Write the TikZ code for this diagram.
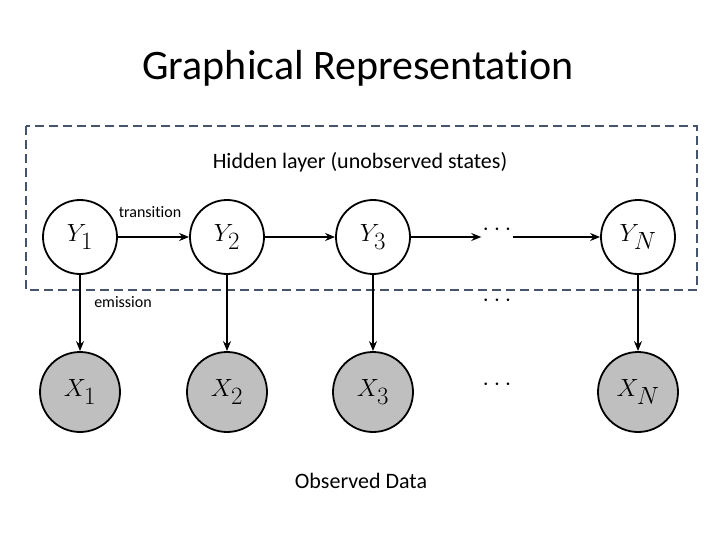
\documentclass[tikz,border=0pt]{standalone}
\usepackage{fontspec}
\setmainfont{Carlito}[Ligatures={NoCommon,NoRare}]
\usetikzlibrary{arrows.meta}
\definecolor{boxc}{HTML}{44546A}
\begin{document}
\begin{tikzpicture}[x=1pt,y=-1pt,
  hid/.style={circle,draw,line width=1.8pt,minimum size=74pt,inner sep=0pt,fill=white,font=\fontsize{34}{34}\selectfont},
  obs/.style={hid,minimum size=80pt,fill=gray!50},
  arr/.style={-{Stealth[length=10pt,width=8pt]},line width=1.4pt},
  lbl/.style={font=\fontsize{16}{18}\selectfont}]
\useasboundingbox (0,0) rectangle (720,540);
\node[font=\fontsize{42}{46}\selectfont] (title) at (358,68) {Graphical Representation};
\draw[boxc,line width=2.4pt,dash pattern=on 9pt off 5pt] (26,126) rectangle (697,290);
\node[font=\fontsize{22}{26}\selectfont] (hl) at (360,162) {Hidden layer (unobserved states)};
\node[hid] (y1) at (80,237) {$Y_1$};
\node[hid] (y2) at (227,237) {$Y_2$};
\node[hid] (y3) at (373,237) {$Y_3$};
\node[hid] (yn) at (638,237) {$Y_N$};
\node[obs] (x1) at (80,392) {$X_1$};
\node[obs] (x2) at (227,392) {$X_2$};
\node[obs] (x3) at (373,392) {$X_3$};
\node[obs] (xn) at (638,392) {$X_N$};
\node[font=\fontsize{34}{34}\selectfont,inner sep=1pt] (d1) at (497,230) {$\cdots$};
\node[font=\fontsize{34}{34}\selectfont] (d2) at (497,301) {$\cdots$};
\node[font=\fontsize{34}{34}\selectfont] (d3) at (497,385) {$\cdots$};
\draw[arr] (y1) -- (y2);
\draw[arr] (y2) -- (y3);
\draw[arr] (y3) -- (d1.west|-y3);
\draw[arr] (d1.east|-yn) -- (yn);
\draw[arr] (y1) -- (x1);
\draw[arr] (y2) -- (x2);
\draw[arr] (y3) -- (x3);
\draw[arr] (yn) -- (xn);
\node[lbl] (tr) at (150,212) {transition};
\node[lbl] (em) at (123,302) {emission};
\node[font=\fontsize{22}{26}\selectfont] (od) at (361,481) {Observed Data};
\end{tikzpicture}
\end{document}
